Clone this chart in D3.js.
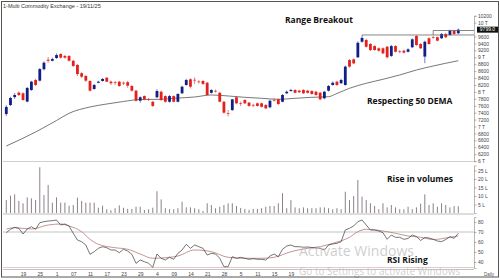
<!DOCTYPE html>
<html>
<head>
<meta charset="utf-8">
<script src="https://cdn.jsdelivr.net/npm/d3@7"></script>
<style>
  body { margin: 0; background: #fff; }
  svg { display: block; }
  .axis text { font-family: "Liberation Sans", Arial, sans-serif; font-size: 5px; fill: #444; }
  .axis path, .axis line { stroke: #888; stroke-width: 0.6; }
  .note { font-family: "Open Sans", sans-serif; font-weight: bold; font-size: 8.5px; fill: #111; }
</style>
</head>
<body>
<div id="chart"></div>
<script>
// CANDLES (one per trading day)
var opens = [7360,7620,7850,7980,7960,7720,8055,8345,8325,8655,8930,8900,8980,9095,9040,9040,8900,8780,8540,8460,
  8315,8085,8265,8315,8410,8295,8280,8295,8265,8280,8170,8035,7745,7880,7790,7715,7845,8005,7880,7715,
  7880,7715,7960,8200,8365,8350,8300,8315,8265,7975,8030,7975,7715,7390,7475,7845,7680,7765,7690,7625,
  7670,7670,7620,7555,7770,7785,7715,7960,8025,8055,8035,8055,8035,8025,8005,7975,7815,8035,8200,8295,
  8250,8200,8920,8940,9000,9450,9500,9385,9325,9260,9260,9305,9040,9325,9170,9190,9160,9290,9615,9385,
  9020,9550,9580,9580,9550,9675,9645,9770,9695];
var highs = [7620,7860,7970,8010,7990,8140,8320,8380,8690,8880,9010,8990,9110,9120,9070,9060,8930,8800,8570,8490,
  8340,8230,8320,8400,8430,8330,8320,8320,8300,8320,8200,8060,7870,7900,7830,7740,8080,8040,7900,7910,
  7900,7960,8180,8380,8390,8420,8340,8340,8290,8080,8070,8000,7740,7480,7800,7870,7720,7790,7710,7660,
  7690,7690,7650,7770,7810,7810,7940,8040,8090,8080,8060,8080,8060,8050,8030,8000,8030,8200,8300,8320,
  8380,8760,8950,8970,9460,9645,9540,9410,9350,9290,9290,9330,9360,9350,9210,9220,9260,9550,9645,9410,
  9480,9580,9620,9600,9700,9700,9800,9790,9830];
var lows = [7300,7590,7795,7880,7750,7700,8030,8170,8300,8620,8840,8880,8950,8960,8960,8880,8720,8460,8400,8290,
  8010,8060,8250,8300,8280,8200,8200,8150,8200,8120,8010,7720,7690,7760,7740,7560,7820,7740,7690,7690,
  7700,7700,7940,8180,8100,8230,8240,8200,7890,7950,7980,7700,7370,7290,7450,7640,7590,7650,7570,7560,
  7570,7550,7500,7530,7720,7620,7700,7940,8010,7960,7970,7940,7950,7920,7890,7760,7790,8010,8180,8170,
  8230,8180,8700,8800,8980,9420,9280,9180,9190,9160,9090,8970,9010,9140,9120,9110,9140,9270,9330,9240,
  8830,9360,9540,9460,9530,9550,9620,9650,9670];
var closes = [7565,7825,7910,7910,7765,8115,8295,8200,8660,8845,8900,8950,9065,8990,8990,8900,8750,8515,8440,8325,
  8035,8200,8295,8375,8295,8250,8270,8170,8255,8180,8035,7745,7845,7785,7785,7595,8025,7765,7715,7880,
  7715,7940,8150,8345,8150,8340,8290,8230,7910,8055,8020,7715,7400,7380,7785,7670,7670,7670,7595,7620,
  7595,7570,7525,7745,7765,7650,7910,8005,8055,7975,7990,7960,7975,7940,7910,7785,8005,8170,8265,8200,
  8345,8730,8730,8825,9420,9560,9305,9210,9210,9190,9115,9000,9325,9160,9160,9135,9230,9520,9355,9260,
  9450,9385,9575,9480,9675,9580,9770,9675,9799];

// VOLUME IN LAKHS
var volumes = [7.6,10.2,11.0,7.1,5.7,9.2,8.6,7.6,26.9,10.6,16.5,6.1,9.2,6.1,6.1,4.3,4.7,9.0,7.1,6.1,
  6.1,6.1,3.1,4.3,2.2,1.6,2.8,4.5,3.1,2.4,2.4,3.7,3.7,1.8,2.2,3.1,12.8,8.0,2.8,2.2,
  2.2,2.8,6.6,3.3,3.3,2.8,2.2,1.2,5.7,4.7,2.8,3.7,4.7,5.7,5.7,4.1,3.0,2.4,1.8,2.4,
  2.4,2.8,3.7,4.1,4.1,5.7,11.6,2.8,7.6,3.3,2.8,3.3,2.8,2.8,2.8,3.3,3.3,2.8,2.2,2.8,
  2.2,12.5,7.6,10.0,19.4,9.6,7.6,5.7,4.1,2.2,5.7,3.3,4.7,3.3,2.2,2.2,3.7,2.2,3.3,5.5,
  11.0,4.7,5.7,3.7,5.7,4.7,3.3,4.0,4.0];

// RSI
var rsi = [69.3,72.7,74.7,73.7,68,73,75.3,72.7,79.3,80.3,81,81.3,82,77,78,76,68.7,62,60.3,57,
  47.7,50.3,53.7,55.3,54.3,52,52,49.3,52.7,51,47.7,38.7,42,40.3,38.7,34.7,48,43.7,42,44.7,
  42.7,48.7,52,57.7,53.7,57,55.3,53.7,47,48.7,48,43.7,35.3,35.3,45.3,43.7,44.7,43.7,42.7,43.3,
  42.7,42.7,42,46,48,45.3,52.7,56,57,55.3,55.3,54.7,55,54.5,54,53.7,52,57,58,58.7,
  60.3,72,73.7,76,80.3,82,77,72,72,71,69.3,62.7,67,64.7,64.7,62.7,63.5,67,65.5,61.5,
  64.5,64,62.7,61,60.3,62.5,65.3,63.7,68.7];
// RSI AVERAGE, read at [day, value]
var rsiAvg = [[0,73],[2,74.3],[6,73],[10,77],[13,78],[15,76],[18,70.3],[20,62.7],[22,57.7],[26,54.3],[29,52.7],
  [32,48],[35,43.7],[39,44.7],[41,46],[45,52],[49,50.3],[53,44.7],[57,43.7],[61,43.7],[64,44.7],[68,50.3],
  [72,53.7],[75,55.3],[78,58.7],[82,64.7],[84,70.3],[86,72.7],[90,71],[93,68.7],[96,66],[99,64.7],
  [102,62.5],[106,64.7],[108,66]];
// 50 DEMA, read at [day, value]
var dema = [[0,6437],[7,6841],[12,7174],[15,7382],[20,7564],[24,7650],[28,7723],[32,7780],[37,7786],[40,7815],
  [45,7853],[49,7911],[53,7882],[57,7844],[61,7815],[65,7786],[69,7815],[73,7844],[77,7861],[79,7954],
  [82,8104],[86,8249],[90,8364],[94,8489],[98,8633],[102,8749],[108,8902]];

// TICKS (9800 sits under the last price box)
var priceTicks = [6000,6200,6400,6600,6800,7000,7200,7400,7600,7800,8000,8200,8400,8600,8800,9000,9200,9400,9600,10000,10200];
var volTicks = [5,10,15,20,25];
var rsiTicks = [40,50,60,70,80];
var dateIdx = [4,8,12,16,20,24,28,32,36,40,44,48,52,56,60,64,68];
var dateLabels = ['19','25','1','07','11','17','23','29','4','09','14','21','28','5','11','15','19'];

// RANGE LINES AND LAST PRICE
var rangeLow = 9645, rangeHigh = 9775, rangeStart = 85, rangeStep = 102;
var lastPrice = 9799.0;

var W = 500, H = 280;
var svg = d3.select('#chart').append('svg').attr('width', W).attr('height', H);
svg.append('rect').attr('width', W).attr('height', H).attr('fill', '#fff');

// SCALES
var x = d3.scaleLinear().domain([0, closes.length - 1]).range([6.3, 458.3]);
var yP = d3.scaleLinear().domain([6000, 10000]).range([161.1, 22.7]);
var yV = d3.scaleLinear().domain([0, 25]).range([213, 170.5]);
var yR = d3.scaleLinear().domain([40, 80]).range([262, 222]);
var axisX = 474;

// PANEL SEPARATORS
svg.append('line').attr('x1', 3).attr('x2', axisX).attr('y1', 161.5).attr('y2', 161.5).attr('stroke', '#c4c4c4').attr('stroke-width', 0.8);
svg.append('line').attr('x1', 3).attr('x2', axisX).attr('y1', 214).attr('y2', 214).attr('stroke', '#aaa').attr('stroke-width', 0.8);
svg.append('line').attr('x1', 3).attr('x2', axisX).attr('y1', yR(70)).attr('y2', yR(70)).attr('stroke', '#aaa').attr('stroke-width', 0.7);
svg.append('line').attr('x1', 3).attr('x2', axisX).attr('y1', 267.5).attr('y2', 267.5).attr('stroke', '#d9b3b3').attr('stroke-width', 0.7);
svg.append('line').attr('x1', 3).attr('x2', axisX).attr('y1', 269.5).attr('y2', 269.5).attr('stroke', '#aaa').attr('stroke-width', 0.7);

// DEMA
var lineP = d3.line().x(function(d) { return x(d[0]); }).y(function(d) { return yP(d[1]); }).curve(d3.curveMonotoneX);
svg.append('path').datum(dema).attr('d', lineP).attr('fill', 'none').attr('stroke', '#555').attr('stroke-width', 0.8);

// CANDLES
var days = d3.range(closes.length);
var cg = svg.append('g');
cg.selectAll('.wick').data(days).enter().append('line')
  .attr('x1', function(i) { return x(i); }).attr('x2', function(i) { return x(i); })
  .attr('y1', function(i) { return yP(highs[i]); }).attr('y2', function(i) { return yP(lows[i]); })
  .attr('stroke', function(i) { return closes[i] >= opens[i] ? '#1b2a8c' : '#e02a24'; })
  .attr('stroke-width', 0.6);
cg.selectAll('.body').data(days).enter().append('rect')
  .attr('x', function(i) { return x(i) - 1.4; })
  .attr('width', 2.8)
  .attr('y', function(i) { return yP(Math.max(opens[i], closes[i])); })
  .attr('height', function(i) { return Math.max(0.7, Math.abs(yP(opens[i]) - yP(closes[i]))); })
  .attr('fill', function(i) { return closes[i] >= opens[i] ? '#0f1f86' : '#e3201b'; });

// RANGE BREAKOUT LINES
svg.append('path')
  .attr('d', 'M' + x(rangeStart) + ',' + yP(rangeLow) + 'H' + axisX +
             'M' + x(rangeStep) + ',' + yP(rangeLow) + 'V' + yP(rangeHigh) + 'H' + axisX)
  .attr('fill', 'none').attr('stroke', '#666').attr('stroke-width', 0.8);

// VOLUME BARS
svg.selectAll('.vol').data(days).enter().append('line')
  .attr('x1', function(i) { return x(i); }).attr('x2', function(i) { return x(i); })
  .attr('y1', yV(0)).attr('y2', function(i) { return yV(volumes[i]); })
  .attr('stroke', '#6e5f6c').attr('stroke-width', 0.8);

// RSI LINES
var lineR = d3.line().x(function(d, i) { return x(i); }).y(function(d) { return yR(d); });
var lineA = d3.line().x(function(d) { return x(d[0]); }).y(function(d) { return yR(d[1]); }).curve(d3.curveMonotoneX);
svg.append('path').datum(rsiAvg).attr('d', lineA).attr('fill', 'none').attr('stroke', '#b57a7a').attr('stroke-width', 0.8);
svg.append('path').datum(rsi).attr('d', lineR).attr('fill', 'none').attr('stroke', '#3a3a3a').attr('stroke-width', 0.7);

// RIGHT AXES
function fmtPrice(p) { return p % 1000 === 0 ? (p / 1000) + ' T' : p; }
svg.append('g').attr('class', 'axis').attr('transform', 'translate(' + axisX + ',0)')
  .call(d3.axisRight(d3.scaleLinear().domain([6000, 10200]).range([yP(6000), yP(10200)])).tickValues(priceTicks).tickSize(2.5).tickPadding(1.5).tickFormat(fmtPrice));
svg.append('g').attr('class', 'axis').attr('transform', 'translate(' + axisX + ',0)')
  .call(d3.axisRight(d3.scaleLinear().domain([0, 28]).range([yV(0), yV(28)])).tickValues(volTicks).tickSize(2.5).tickPadding(1.5).tickFormat(function(v) { return v + ' L'; }));
svg.append('g').attr('class', 'axis').attr('transform', 'translate(' + axisX + ',0)')
  .call(d3.axisRight(d3.scaleLinear().domain([34, 85]).range([yR(34), yR(85)])).tickValues(rsiTicks).tickSize(2.5).tickPadding(1.5));

// LAST PRICE BOX
svg.append('rect').attr('x', 477).attr('y', yP(lastPrice) - 3).attr('width', 21).attr('height', 6).attr('fill', '#111');
svg.append('text').attr('x', 487.5).attr('y', yP(lastPrice) + 1.8).attr('text-anchor', 'middle')
  .style('font-family', 'Liberation Sans, Arial, sans-serif').style('font-size', '5px').attr('fill', '#fff')
  .text(lastPrice.toFixed(1));

// DATE AXIS
var xa = svg.append('g').attr('class', 'axis').attr('transform', 'translate(0,270)')
  .call(d3.axisBottom(x).tickValues(dateIdx).tickSize(0).tickPadding(2)
    .tickFormat(function(d) { return dateLabels[dateIdx.indexOf(d)]; }));
xa.select('.domain').remove();
xa.selectAll('text').attr('fill', '#999');

// TITLE, LABELS, NOTES
svg.append('text').attr('x', 3).attr('y', 7.5).style('font-family', 'Liberation Sans, Arial, sans-serif')
  .style('font-size', '5.5px').attr('fill', '#333').text('1-Multi Commodity Exchange - 19/11/25');
svg.append('text').attr('x', 484).attr('y', 275.5).style('font-family', 'Liberation Sans, Arial, sans-serif')
  .style('font-size', '4.5px').attr('fill', '#555').text('Daily');

svg.append('text').attr('class', 'note').attr('x', 285).attr('y', 23).text('Range Breakout');
svg.append('text').attr('class', 'note').attr('x', 367).attr('y', 104).text('Respecting 50 DEMA');
svg.append('text').attr('class', 'note').attr('x', 387).attr('y', 182).text('Rise in volumes');
svg.append('text').attr('class', 'note').attr('x', 387).attr('y', 263).text('RSI Rising');

// WINDOWS WATERMARK
svg.append('text').attr('x', 299).attr('y', 256).style('font-family', 'Open Sans, sans-serif')
  .style('font-size', '14px').attr('fill', '#bdbdbd').attr('fill-opacity', 0.75).text('Activate Windows');
svg.append('text').attr('x', 299).attr('y', 274.5).style('font-family', 'Open Sans, sans-serif')
  .style('font-size', '10px').attr('fill', '#bdbdbd').attr('fill-opacity', 0.75).text('Go to Settings to activate Windows');

// OUTER BORDER
svg.append('rect').attr('x', 1.5).attr('y', 1.5).attr('width', 497).attr('height', 275.5)
  .attr('fill', 'none').attr('stroke', '#555').attr('stroke-width', 1);
</script>
</body>
</html>
